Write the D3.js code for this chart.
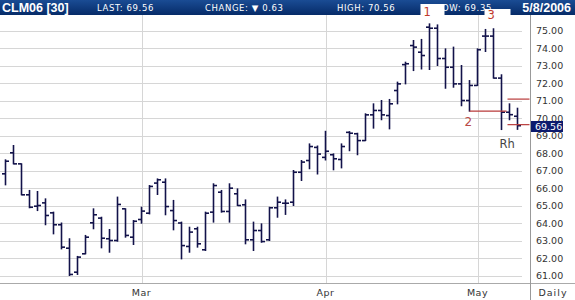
<!DOCTYPE html>
<html>
<head>
    <meta charset="utf-8" />
    <title>CLM06 daily</title>
    <script type="text/javascript" src="https://d3js.org/d3.v7.min.js"></script>
    <style>
        body { margin: 0; background: #fff; }
        svg { display: block; }
        .grid { stroke: #d6d6d6; stroke-width: 1px; shape-rendering: crispEdges; }
        .bar { stroke: #12124a; stroke-width: 1.6px; fill: none; }
        .ylab { font-family: "DejaVu Sans", sans-serif; font-size: 9.5px; fill: #333; }
        .hdr { font-family: "DejaVu Sans", sans-serif; font-size: 8.5px; fill: #fff; letter-spacing: 0.6px; }
        .hdrb { font-family: "Liberation Sans", Arial, sans-serif; font-size: 12.5px; font-weight: bold; fill: #fff; }
    </style>
</head>
<body>
<script type="text/javascript">
// trading days shown (Feb 3 .. May 8 2006)
var dates = [
    "2006-02-03","2006-02-06","2006-02-07","2006-02-08","2006-02-09","2006-02-10",
    "2006-02-13","2006-02-14","2006-02-15","2006-02-16","2006-02-17",
    "2006-02-21","2006-02-22","2006-02-23","2006-02-24","2006-02-27","2006-02-28",
    "2006-03-01","2006-03-02","2006-03-03","2006-03-06","2006-03-07","2006-03-08","2006-03-09","2006-03-10",
    "2006-03-13","2006-03-14","2006-03-15","2006-03-16","2006-03-17",
    "2006-03-20","2006-03-21","2006-03-22","2006-03-23","2006-03-24",
    "2006-03-27","2006-03-28","2006-03-29","2006-03-30","2006-03-31",
    "2006-04-03","2006-04-04","2006-04-05","2006-04-06","2006-04-07",
    "2006-04-10","2006-04-11","2006-04-12","2006-04-13",
    "2006-04-17","2006-04-18","2006-04-19","2006-04-20","2006-04-21",
    "2006-04-24","2006-04-25","2006-04-26","2006-04-27","2006-04-28",
    "2006-05-01","2006-05-02","2006-05-03","2006-05-04","2006-05-05","2006-05-08"
];
var opens = [66.81,68.01,67.38,65.61,64.96,65.15,64.58,63.90,62.56,61.19,62.24,64.01,64.28,63.10,63.00,64.81,63.19,
    64.20,64.56,66.28,66.33,64.71,64.00,62.66,63.67,62.47,64.62,65.76,64.66,65.67,65.04,63.04,63.57,63.04,64.87,65.13,65.19,66.90,67.57,68.32,
    67.75,67.90,67.63,69.18,69.10,68.71,70.18,70.43,70.14,71.57,73.05,74.14,73.76,75.19,75.13,73.40,72.90,71.95,71.00,
    71.86,74.68,74.68,72.28,70.33,70.10];
var highs = [67.61,68.43,67.38,65.86,65.80,65.38,64.62,64.00,63.10,62.09,63.29,64.81,64.33,63.63,65.48,64.81,64.14,
    64.90,66.14,66.52,66.52,65.29,64.05,63.76,63.76,64.62,66.24,65.86,66.24,65.95,65.32,64.05,63.95,64.90,65.48,65.32,67.00,67.57,68.52,68.40,
    69.24,67.95,68.52,69.22,69.13,70.24,70.81,71.00,71.06,72.05,73.19,74.43,74.49,75.38,75.32,73.95,74.05,73.00,72.14,
    73.95,75.06,75.10,72.47,70.81,70.56];
var lows = [66.18,67.38,65.61,64.87,64.71,63.90,63.38,62.52,61.00,61.06,62.24,63.67,62.58,62.33,62.96,63.19,62.77,
    63.99,64.52,65.63,64.47,63.61,61.95,62.33,62.62,62.43,64.05,64.62,64.05,65.00,62.81,62.43,62.90,63.00,64.33,64.49,65.00,66.43,67.10,66.80,
    67.60,67.04,67.15,68.13,67.90,68.71,69.42,69.90,69.38,70.81,71.95,72.71,72.80,72.77,73.00,71.70,71.76,70.70,70.39,
    71.86,73.80,72.28,69.34,69.90,69.35];
var closes = [67.53,67.38,65.61,64.90,65.00,64.43,63.90,62.62,61.06,62.05,63.19,64.47,63.13,63.00,65.06,63.29,64.10,
    64.68,66.09,66.47,64.94,64.14,62.71,63.48,62.81,64.56,66.14,64.66,65.99,65.00,63.04,63.57,62.94,64.87,65.19,65.13,66.90,67.48,68.37,67.94,
    68.10,67.67,68.37,69.13,68.71,70.18,70.43,70.18,70.81,71.95,73.10,74.05,73.57,75.13,73.40,72.90,71.95,71.00,71.86,
    73.90,74.68,72.28,70.33,70.19,69.56];

var yTicks = [61,62,63,64,65,66,67,68,69,70,71,72,73,74,75];
var monthStarts = ["2006-03-01","2006-04-03","2006-05-01"];
var monthLabels = ["Mar","Apr","May"];

var headerItems = ["LAST: 69.56", "CHANGE: \u25BC 0.63", "HIGH: 70.56", "LOW: 69.35"];
var lastPrice = 69.56;

// hand drawn annotations on the chart
var redLines = [
    {from: "2006-04-28", to: "2006-05-04", price: 70.39, dx0: 0, dx1: 5},
    {from: "2006-05-04", to: "2006-05-08", price: 71.08, dx0: 6, dx1: 12},
    {from: "2006-05-04", to: "2006-05-08", price: 69.62, dx0: 6, dx1: 12}
];
var notes = [
    {t: "2", date: "2006-04-28", price: 69.55, dx: -5, color: "#b94a48", size: 12},
    {t: "Rh", date: "2006-05-04", price: 68.3, dx: -2, color: "#444", size: 11.5}
];

var W = 575, H = 300;
var plotTop = 15, plotBottom = 283, plotRight = 530;

var data = dates.map(function(d, i) {
    return {date: d, o: opens[i], h: highs[i], l: lows[i], c: closes[i]};
});

var x = d3.scalePoint().domain(dates).range([5.5, 517.5]);
var y = d3.scaleLinear().domain([61, 75]).range([275.5, 30.5]);

var svg = d3.select("body").append("svg")
    .attr("width", W)
    .attr("height", H);

// horizontal grid
svg.selectAll(".hgrid").data(yTicks).enter().append("line")
    .attr("class", "grid")
    .attr("x1", 0).attr("x2", 522)
    .attr("y1", function(d) { return Math.round(y(d)) + 0.5; })
    .attr("y2", function(d) { return Math.round(y(d)) + 0.5; });

// month lines
svg.selectAll(".vgrid").data(monthStarts).enter().append("line")
    .attr("class", "grid")
    .attr("x1", function(d) { return Math.round(x(d)) + 0.5; })
    .attr("x2", function(d) { return Math.round(x(d)) + 0.5; })
    .attr("y1", plotTop).attr("y2", plotBottom);

// axis frame
svg.append("line").attr("x1", 0).attr("x2", W).attr("y1", plotBottom + 0.5).attr("y2", plotBottom + 0.5)
    .attr("stroke", "#aaa").attr("shape-rendering", "crispEdges");
svg.append("line").attr("x1", plotRight + 0.5).attr("x2", plotRight + 0.5).attr("y1", plotTop).attr("y2", H)
    .attr("stroke", "#999").attr("shape-rendering", "crispEdges");

// OHLC bars
var bars = svg.selectAll(".ohlc").data(data).enter().append("g").attr("class", "ohlc");
bars.append("line").attr("class", "bar")
    .attr("x1", function(d) { return x(d.date); })
    .attr("x2", function(d) { return x(d.date); })
    .attr("y1", function(d) { return y(d.h) - 0.5; })
    .attr("y2", function(d) { return y(d.l) + 0.5; });
bars.append("line").attr("class", "bar")
    .attr("x1", function(d) { return x(d.date) - 3.5; })
    .attr("x2", function(d) { return x(d.date); })
    .attr("y1", function(d) { return y(d.o); })
    .attr("y2", function(d) { return y(d.o); });
bars.append("line").attr("class", "bar")
    .attr("x1", function(d) { return x(d.date); })
    .attr("x2", function(d) { return x(d.date) + 3.5; })
    .attr("y1", function(d) { return y(d.c); })
    .attr("y2", function(d) { return y(d.c); });

// y labels on the right
svg.selectAll(".ylab").data(yTicks).enter().append("text")
    .attr("class", "ylab")
    .attr("x", 536)
    .attr("y", function(d) { return y(d) + 3.5; })
    .text(function(d) { return d3.format(".2f")(d); });

// last price box
svg.append("rect")
    .attr("x", 531).attr("y", Math.round(y(lastPrice)) - 5)
    .attr("width", 32).attr("height", 11)
    .attr("fill", "#0c1a6e");
svg.append("text").attr("class", "ylab")
    .attr("x", 535).attr("y", y(lastPrice) + 4)
    .style("fill", "#fff")
    .text(d3.format(".2f")(lastPrice));

// month labels
svg.selectAll(".mlab").data(monthStarts).enter().append("text")
    .attr("class", "ylab")
    .attr("x", function(d) { return x(d); })
    .attr("y", 296)
    .attr("text-anchor", "middle")
    .style("letter-spacing", "0.5px")
    .text(function(d, i) { return monthLabels[i]; });
svg.append("text").attr("class", "ylab")
    .attr("x", 553).attr("y", 296)
    .attr("text-anchor", "middle")
    .style("letter-spacing", "1px")
    .text("Daily");

// header bar
var defs = svg.append("defs");
var grad = defs.append("linearGradient").attr("id", "hg").attr("x1", 0).attr("x2", 0).attr("y1", 0).attr("y2", 1);
grad.append("stop").attr("offset", "0%").attr("stop-color", "#1a4c94");
grad.append("stop").attr("offset", "100%").attr("stop-color", "#062b68");
svg.append("rect").attr("x", 0).attr("y", 0).attr("width", W).attr("height", plotTop).attr("fill", "url(#hg)");

svg.append("text").attr("class", "hdrb").attr("x", 2).attr("y", 12).text("CLM06 [30]");
var hx = [97, 205, 337, 437];
svg.selectAll(".hdr").data(headerItems).enter().append("text")
    .attr("class", "hdr")
    .attr("x", function(d, i) { return hx[i]; })
    .attr("y", 11)
    .text(function(d) { return d; });
svg.append("text").attr("class", "hdrb").attr("x", 571).attr("y", 12)
    .attr("text-anchor", "end").text("5/8/2006");

// red annotation lines
svg.selectAll(".red").data(redLines).enter().append("line")
    .attr("x1", function(d) { return x(d.from) + d.dx0; })
    .attr("x2", function(d) { return x(d.to) + d.dx1; })
    .attr("y1", function(d) { return y(d.price); })
    .attr("y2", function(d) { return y(d.price); })
    .attr("stroke", "#b83a3a").attr("stroke-width", 1.2);

// peak marks 1 and 3 (pasted over the header)
var peaks = [{t: "1", date: "2006-04-20", yTop: 4, h: 13, w: 24, tx: 2},
             {t: "3", date: "2006-05-03", yTop: 9, h: 8, w: 26, tx: -6}];
svg.selectAll(".pk").data(peaks).enter().append("rect")
    .attr("x", function(d) { return x(d.date) + d.tx - 3; })
    .attr("y", function(d) { return d.yTop; })
    .attr("width", function(d) { return d.w; })
    .attr("height", function(d) { return d.h; })
    .attr("fill", "#fff");
svg.selectAll(".pkt").data(peaks).enter().append("text")
    .attr("x", function(d) { return x(d.date) + d.tx; })
    .attr("y", function(d) { return d.t == "1" ? 16 : 19; })
    .attr("fill", "#c0392b")
    .style("font-family", "DejaVu Sans, sans-serif")
    .style("font-size", "11.5px")
    .text(function(d) { return d.t; });

svg.selectAll(".note").data(notes).enter().append("text")
    .attr("x", function(d) { return x(d.date) + d.dx; })
    .attr("y", function(d) { return y(d.price); })
    .attr("fill", function(d) { return d.color; })
    .style("font-family", "DejaVu Sans, sans-serif")
    .style("font-size", function(d) { return d.size + "px"; })
    .text(function(d) { return d.t; });
</script>
</body>
</html>
